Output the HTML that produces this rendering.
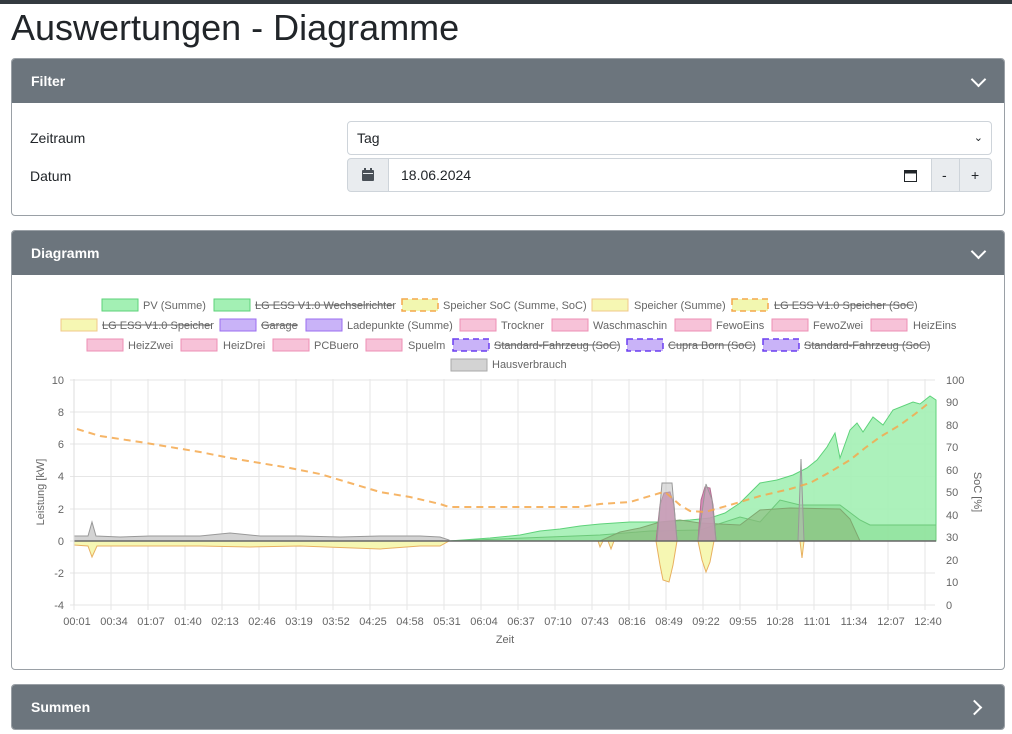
<!DOCTYPE html>
<html><head><meta charset="utf-8"><style>
body{margin:0;width:1012px;height:734px;overflow:hidden;background:#fff;font-family:"Liberation Sans",Arial,sans-serif;color:#212529;position:relative}
.top{position:absolute;left:0;top:0;width:1012px;height:4px;background:#343a40}
h1{position:absolute;left:11px;top:7px;margin:0;font-size:36px;font-weight:400;color:#212529}
.card{position:absolute;left:11px;width:992px;border:1px solid #9aa0a6;border-radius:4px;overflow:hidden;background:#fff}
.hd{height:44px;background:#6c757d;color:#fff;font-weight:700;font-size:14px;line-height:44px;padding-left:19px;position:relative}
.chev{position:absolute;right:20px;top:15px;width:9px;height:9px;border-right:2px solid #fff;border-bottom:2px solid #fff;transform:rotate(45deg)}
.chev.r{transform:rotate(-45deg);top:17px;right:24px}
.lbl{position:absolute;font-size:14px;color:#212529}
.inp{position:absolute;border:1px solid #ced4da;border-radius:4px;font-size:14px;line-height:32px;padding-left:9px;box-sizing:border-box;height:34px}
</style></head><body>
<div class="top"></div>
<h1>Auswertungen - Diagramme</h1>
<div class="card" style="top:58px;height:156px">
 <div class="hd">Filter<div class="chev"></div></div>
 <div class="lbl" style="left:18px;top:71px">Zeitraum</div>
 <div class="lbl" style="left:18px;top:109px">Datum</div>
 <div class="inp" style="left:335px;top:62px;width:645px">Tag<span style="position:absolute;right:8px;top:0;font-size:11px">&#8964;</span></div>
 <div class="inp" style="left:335px;top:99px;width:42px;background:#e9ecef;border-radius:4px 0 0 4px"><svg width="14" height="14" style="position:absolute;left:13px;top:9px" viewBox="0 0 14 14"><rect x="1" y="2" width="12" height="11" rx="1" fill="#495057"/><rect x="3" y="0" width="2" height="4" fill="#495057"/><rect x="9" y="0" width="2" height="4" fill="#495057"/><rect x="2" y="5" width="10" height="1" fill="#e9ecef"/></svg></div>
 <div class="inp" style="left:376px;top:99px;width:544px;border-radius:0;padding-left:12px">18.06.2024<svg width="13" height="13" style="position:absolute;right:14px;top:10px" viewBox="0 0 13 13"><rect x="0.5" y="1.5" width="12" height="11" fill="none" stroke="#212529"/><rect x="0.5" y="1.5" width="12" height="3" fill="#212529"/></svg></div>
 <div class="inp" style="left:919px;top:99px;width:29px;background:#e9ecef;border-radius:0;padding-left:10px">-</div>
 <div class="inp" style="left:947px;top:99px;width:33px;background:#e9ecef;border-radius:0 4px 4px 0;padding-left:11px">+</div>
</div>
<div class="card" style="top:230px;height:438px">
 <div class="hd">Diagramm<div class="chev"></div></div>
</div>
<div class="card" style="top:684px;height:44px">
 <div class="hd">Summen<div class="chev r"></div></div>
</div>
<svg width="1012" height="734" style="position:absolute;left:0;top:0" font-family="Liberation Sans,Arial,sans-serif" font-size="11" fill="#666">
<g font-size="11">
 <rect x="102" y="299" width="36" height="12" fill="#a3f0b4" stroke="#5ed27a"/><text x="143" y="309">PV (Summe)</text>
 <rect x="214" y="299" width="36" height="12" fill="#a3f0b4" stroke="#5ed27a"/><text x="255" y="309">LG ESS V1.0 Wechselrichter</text><line x1="255" y1="305" x2="394" y2="305" stroke="#666"/>
 <rect x="402" y="299" width="36" height="12" fill="#f2f7b0" stroke="#f4a84c" stroke-dasharray="6,4" stroke-width="1.5"/><text x="443" y="309">Speicher SoC (Summe, SoC)</text>
 <rect x="592" y="299" width="36" height="12" fill="#f6f7b3" stroke="#f0c888"/><text x="634" y="309">Speicher (Summe)</text>
 <rect x="732" y="299" width="36" height="12" fill="#f2f7b0" stroke="#f4a84c" stroke-dasharray="6,4" stroke-width="1.5"/><text x="774" y="309">LG ESS V1.0 Speicher (SoC)</text><line x1="774" y1="305" x2="914" y2="305" stroke="#666"/>
 <rect x="61" y="319" width="36" height="12" fill="#f6f7b3" stroke="#f0c888"/><text x="102" y="329">LG ESS V1.0 Speicher</text><line x1="102" y1="325" x2="212" y2="325" stroke="#666"/>
 <rect x="220" y="319" width="36" height="12" fill="#c9b3f8" stroke="#9b6ef0"/><text x="261" y="329">Garage</text><line x1="261" y1="325" x2="298" y2="325" stroke="#666"/>
 <rect x="306" y="319" width="36" height="12" fill="#c9b3f8" stroke="#9b6ef0"/><text x="347" y="329">Ladepunkte (Summe)</text>
 <rect x="460" y="319" width="36" height="12" fill="#f7c2d8" stroke="#ee8fb4"/><text x="501" y="329">Trockner</text>
 <rect x="552" y="319" width="36" height="12" fill="#f7c2d8" stroke="#ee8fb4"/><text x="593" y="329">Waschmaschin</text>
 <rect x="675" y="319" width="36" height="12" fill="#f7c2d8" stroke="#ee8fb4"/><text x="716" y="329">FewoEins</text>
 <rect x="772" y="319" width="36" height="12" fill="#f7c2d8" stroke="#ee8fb4"/><text x="813" y="329">FewoZwei</text>
 <rect x="871" y="319" width="36" height="12" fill="#f7c2d8" stroke="#ee8fb4"/><text x="913" y="329">HeizEins</text>
 <rect x="87" y="339" width="36" height="12" fill="#f7c2d8" stroke="#ee8fb4"/><text x="128" y="349">HeizZwei</text>
 <rect x="181" y="339" width="36" height="12" fill="#f7c2d8" stroke="#ee8fb4"/><text x="223" y="349">HeizDrei</text>
 <rect x="273" y="339" width="36" height="12" fill="#f7c2d8" stroke="#ee8fb4"/><text x="314" y="349">PCBuero</text>
 <rect x="366" y="339" width="36" height="12" fill="#f7c2d8" stroke="#ee8fb4"/><text x="408" y="349">Spuelm</text>
 <rect x="453" y="339" width="36" height="12" fill="#c9b3f8" stroke="#6a3ef0" stroke-dasharray="6,4" stroke-width="1.5"/><text x="494" y="349">Standard-Fahrzeug (SoC)</text><line x1="494" y1="345" x2="619" y2="345" stroke="#666"/>
 <rect x="627" y="339" width="36" height="12" fill="#c9b3f8" stroke="#6a3ef0" stroke-dasharray="6,4" stroke-width="1.5"/><text x="668" y="349">Cupra Born (SoC)</text><line x1="668" y1="345" x2="755" y2="345" stroke="#666"/>
 <rect x="763" y="339" width="36" height="12" fill="#c9b3f8" stroke="#6a3ef0" stroke-dasharray="6,4" stroke-width="1.5"/><text x="804" y="349">Standard-Fahrzeug (SoC)</text><line x1="804" y1="345" x2="929" y2="345" stroke="#666"/>
 <rect x="451" y="359" width="36" height="12" fill="#d3d3d3" stroke="#aaa"/><text x="492" y="368">Hausverbrauch</text>
</g>
<g stroke="#e6e6e6" stroke-width="1">
 <line x1="70" y1="380" x2="935" y2="380"/><line x1="70" y1="412" x2="935" y2="412"/><line x1="70" y1="444" x2="935" y2="444"/><line x1="70" y1="476.5" x2="935" y2="476.5"/><line x1="70" y1="509" x2="935" y2="509"/><line x1="70" y1="541" x2="935" y2="541"/><line x1="70" y1="573" x2="935" y2="573"/><line x1="70" y1="605" x2="935" y2="605"/>
</g>
<g stroke="#e6e6e6">
 <line x1="74" y1="379" x2="74" y2="610"/><line x1="111" y1="379" x2="111" y2="610"/><line x1="148" y1="379" x2="148" y2="610"/><line x1="185" y1="379" x2="185" y2="610"/><line x1="222" y1="379" x2="222" y2="610"/><line x1="259" y1="379" x2="259" y2="610"/><line x1="296" y1="379" x2="296" y2="610"/><line x1="333" y1="379" x2="333" y2="610"/><line x1="370" y1="379" x2="370" y2="610"/><line x1="407" y1="379" x2="407" y2="610"/><line x1="444" y1="379" x2="444" y2="610"/><line x1="481" y1="379" x2="481" y2="610"/><line x1="518" y1="379" x2="518" y2="610"/><line x1="555" y1="379" x2="555" y2="610"/><line x1="592" y1="379" x2="592" y2="610"/><line x1="629" y1="379" x2="629" y2="610"/><line x1="666" y1="379" x2="666" y2="610"/><line x1="703" y1="379" x2="703" y2="610"/><line x1="740" y1="379" x2="740" y2="610"/><line x1="777" y1="379" x2="777" y2="610"/><line x1="814" y1="379" x2="814" y2="610"/><line x1="851" y1="379" x2="851" y2="610"/><line x1="888" y1="379" x2="888" y2="610"/><line x1="925" y1="379" x2="925" y2="610"/>
</g>
<g font-size="11" fill="#666" text-anchor="end">
 <text x="64" y="384">10</text><text x="64" y="416">8</text><text x="64" y="448">6</text><text x="64" y="480">4</text><text x="64" y="513">2</text><text x="64" y="545">0</text><text x="64" y="577">-2</text><text x="64" y="609">-4</text>
</g>
<g font-size="11" fill="#666">
<text x="946" y="384">100</text><text x="946" y="406">90</text><text x="946" y="429">80</text><text x="946" y="451">70</text><text x="946" y="474">60</text><text x="946" y="496">50</text><text x="946" y="519">40</text><text x="946" y="541">30</text><text x="946" y="564">20</text><text x="946" y="586">10</text><text x="946" y="609">0</text>
</g>
<text x="44" y="492" font-size="11" fill="#666" transform="rotate(-90 44 492)" text-anchor="middle">Leistung [kW]</text>
<text x="974" y="492" font-size="11" fill="#666" transform="rotate(90 974 492)" text-anchor="middle">SoC [%]</text>
<text x="505" y="643" font-size="11" fill="#666" text-anchor="middle">Zeit</text>
<path d="M74,536 L88,536 L92,522 L96,536 L120,537 L150,536 L200,536 L230,533 L260,536 L300,536 L340,537 L380,536 L420,536 L440,537 L449,540 L449,541 L74,541Z" fill="#d3d3d3" stroke="#999" stroke-width="1"/>
<path d="M74,545 L88,546 L92,557 L97,546 L150,546 L200,546 L250,547 L300,546 L380,549 L420,546 L440,546 L449,541 L74,541Z" fill="#f6f7b3" stroke="#e8b060" stroke-width="1"/>
<path d="M449,541 L490,538 L520,535 L540,531 L560,529 L580,526 L600,524 L630,522 L660,522 L690,520 L710,518 L725,513 L740,503 L760,483 L777,480 L793,475 L807,468 L817,460 L827,447 L835,433 L840,458 L850,430 L857,423 L863,432 L873,417 L883,425 L893,410 L913,402 L920,404 L930,396 L936,400 L936,541Z" fill="#a3f0b4" fill-opacity="0.9" stroke="#5ed27a"/>
<path d="M449,541 L600,535 L650,531 L700,530 L740,517 L760,522 L780,500 L800,505 L840,505 L860,520 L870,525 L936,525 L936,541Z" fill="#7fd98c" fill-opacity="0.5" stroke="#6cc97a"/>
<path d="M600,541 L620,532 L640,528 L660,522 L680,520 L700,523 L740,525 L760,510 L790,508 L840,509 L850,519 L860,541Z" fill="#88b878" fill-opacity="0.6" stroke="#7fa870"/>
<path d="M656,541 L660,505 L664,493 L670,492 L674,505 L677,541Z M698,541 L701,500 L705,487 L710,488 L713,505 L716,541Z" fill="#d06ba8" fill-opacity="0.8" stroke="#b07090"/>
<path d="M657,541 L662,483 L672,483 L677,541Z M698,541 L706,484 L712,500 L716,541Z M798,541 L801,459 L804,541Z" fill="#bbb" fill-opacity="0.5" stroke="#999"/>
<path d="M656,541 L660,565 L663,580 L669,582 L673,565 L677,541Z M698,541 L702,560 L706,572 L710,562 L714,541Z M598,541 L600,547 L603,541Z M608,541 L611,549 L614,541Z M800,541 L802,558 L804,541Z" fill="#f6f7b3" stroke="#e8b060"/>
<line x1="74" y1="541" x2="936" y2="541" stroke="#666" stroke-width="1.5"/>
<path d="M77,429 L100,436 L140,442 L170,447 L200,452 L230,458 L260,463 L290,468 L320,474 L350,483 L380,492 L410,497 L440,504 L449,507 L580,507 L600,504 L630,502 L660,493 L665,492 L680,505 L690,511 L705,512 L730,505 L760,496 L790,489 L810,483 L830,472 L850,460 L865,448 L880,437 L900,425 L915,414 L930,402" fill="none" stroke="#f4a84c" stroke-width="2" stroke-dasharray="7,5" opacity="0.85"/>
<line x1="74" y1="379" x2="74" y2="605" stroke="#ddd"/>
<g font-size="11" fill="#666" text-anchor="middle">
<text x="77" y="625">00:01</text><text x="114" y="625">00:34</text><text x="151" y="625">01:07</text><text x="188" y="625">01:40</text><text x="225" y="625">02:13</text><text x="262" y="625">02:46</text><text x="299" y="625">03:19</text><text x="336" y="625">03:52</text><text x="373" y="625">04:25</text><text x="410" y="625">04:58</text><text x="447" y="625">05:31</text><text x="484" y="625">06:04</text><text x="521" y="625">06:37</text><text x="558" y="625">07:10</text><text x="595" y="625">07:43</text><text x="632" y="625">08:16</text><text x="669" y="625">08:49</text><text x="706" y="625">09:22</text><text x="743" y="625">09:55</text><text x="780" y="625">10:28</text><text x="817" y="625">11:01</text><text x="854" y="625">11:34</text><text x="891" y="625">12:07</text><text x="928" y="625">12:40</text>
</g>
</svg>
</body></html>
